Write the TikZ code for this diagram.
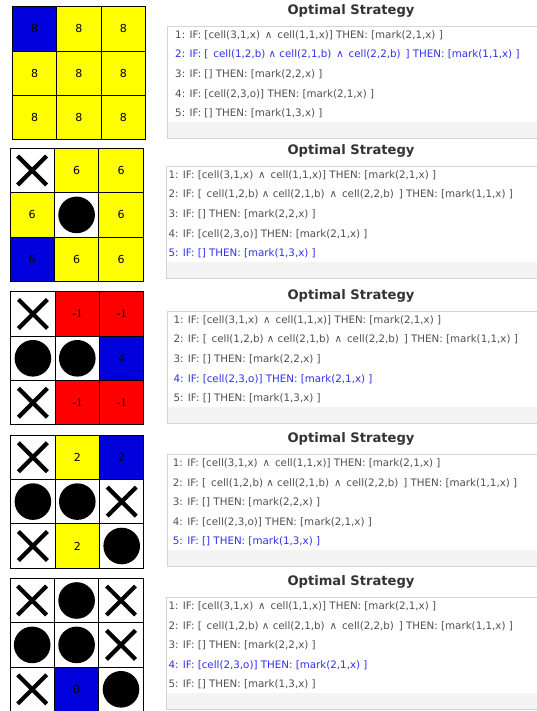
\documentclass[tikz,border=0pt]{standalone}
\usepackage{fontspec}
\newfontfamily\dv{DejaVu Sans}
\newfontfamily\lser{Liberation Serif}
\definecolor{cyell}{HTML}{FFFF00}
\definecolor{cblue}{HTML}{0000DD}
\definecolor{cred}{HTML}{FF0000}
\definecolor{txtgray}{HTML}{505050}
\definecolor{hlblue}{HTML}{3030F0}
\definecolor{titlegray}{HTML}{333333}
\definecolor{boxgray}{HTML}{D4D4D4}
\definecolor{stripgray}{HTML}{F4F4F4}
\newcommand\dsp{\hspace{4.9pt}}
\newcommand\rulA{1: IF: [cell(3,1,x)\dsp∧\dsp cell(1,1,x)] THEN: [mark(2,1,x) ]}
\newcommand\rulB{2: IF: [\dsp cell(1,2,b) ∧ cell(2,1,b)\dsp∧\dsp cell(2,2,b)\dsp] THEN: [mark(1,1,x) ]}
\newcommand\rulC{3: IF: [] THEN: [mark(2,2,x) ]}
\newcommand\rulD{4: IF: [cell(2,3,o)] THEN: [mark(2,1,x) ]}
\newcommand\rulE{5: IF: [] THEN: [mark(1,3,x) ]}
\tikzset{
  cellbox/.style={draw=black, line width=1pt, minimum size=44.4pt, inner sep=0pt, outer sep=0pt,
    font=\dv\fontsize{11}{12}\selectfont, text=black},
  ye/.style={cellbox, fill=cyell},
  bl/.style={cellbox, fill=cblue},
  rd/.style={cellbox, fill=cred, font=\lser\fontsize{12}{13}\selectfont},
  em/.style={cellbox, fill=white},
  xm/.style={em, path picture={
    \draw[line width=4.2pt] ([shift={(-14.5,-14.5)}]path picture bounding box.center) -- ([shift={(14.5,14.5)}]path picture bounding box.center);
    \draw[line width=4.2pt] ([shift={(-14.5,14.5)}]path picture bounding box.center) -- ([shift={(14.5,-14.5)}]path picture bounding box.center);}},
  om/.style={em, path picture={\fill[black] (path picture bounding box.center) circle[radius=18.3pt];}},
  titlestyle/.style={font=\dv\bfseries\fontsize{13.1}{15}\selectfont, text=titlegray, inner sep=0pt},
  boxstyle/.style={draw=boxgray, line width=0.8pt, anchor=north west, inner sep=0pt},
  ruletext/.style={font=\dv\fontsize{10.3}{12}\selectfont, text=txtgray, anchor=west, inner sep=0pt}
}
\newcommand\gc[4]{\node[#3] (c#1#2) at ({(#1-0.5)*44.4},{(#2-0.5)*44.4}) {#4};}
% #1 prefix, #2 box top, #3 box left, #4 text x, #5 highlighted line
\newcommand\stratpanel[5]{%
  \node[titlestyle] (#1title) at (351,{#2-15.5}) {Optimal Strategy};
  \fill[white] (#3,#2) rectangle (536.5,{#2+112});
  \fill[stripgray] (#3,{#2+96}) rectangle (536.5,{#2+112});
  \node[boxstyle, minimum width={(536.5-#3)*1pt}, minimum height=112pt] (#1box) at (#3,#2) {};
  \foreach \i/\t in {1/\rulA,2/\rulB,3/\rulC,4/\rulD,5/\rulE}{
    \node[ruletext] (#1r\i) at (#4,{#2+9+(\i-1)*19.6}) {\ifnum\i=#5\color{hlblue}\fi\t};
  }
}
\begin{document}
\begin{tikzpicture}[x=1pt,y=-1pt]
\useasboundingbox (0,0) rectangle (537,711);
\clip (0,0) rectangle (537,711);
\fill[white] (0,0) rectangle (537,711);
% ---- panel 1
\begin{scope}[shift={(12.3,6.7)}, name prefix=pa-]
\gc11{bl}{8}\gc21{ye}{8}\gc31{ye}{8}
\gc12{ye}{8}\gc22{ye}{8}\gc32{ye}{8}
\gc13{ye}{8}\gc23{ye}{8}\gc33{ye}{8}
\end{scope}
% ---- panel 2
\begin{scope}[shift={(10,148.3)}, name prefix=pb-]
\gc11{xm}{}\gc21{ye}{6}\gc31{ye}{6}
\gc12{ye}{6}\gc22{om}{}\gc32{ye}{6}
\gc13{bl}{6}\gc23{ye}{6}\gc33{ye}{6}
\end{scope}
% ---- panel 3
\begin{scope}[shift={(10.7,291.7)}, name prefix=pc-]
\gc11{xm}{}\gc21{rd}{-1}\gc31{rd}{-1}
\gc12{om}{}\gc22{om}{}\gc32{bl,font=\lser\fontsize{12}{13}\selectfont}{4}
\gc13{xm}{}\gc23{rd}{-1}\gc33{rd}{-1}
\end{scope}
% ---- panel 4
\begin{scope}[shift={(10.7,435)}, name prefix=pd-]
\gc11{xm}{}\gc21{ye}{2}\gc31{bl}{2}
\gc12{om}{}\gc22{om}{}\gc32{xm}{}
\gc13{xm}{}\gc23{ye}{2}\gc33{om}{}
\end{scope}
% ---- panel 5
\begin{scope}[shift={(10,578.3)}, name prefix=pe-]
\gc11{xm}{}\gc21{om}{}\gc31{xm}{}
\gc12{om}{}\gc22{om}{}\gc32{xm}{}
\gc13{xm}{}\gc23{bl}{0}\gc33{om}{}
\end{scope}
% ---- strategy panels
\stratpanel{sa-}{26}{167.3}{175}{2}
\stratpanel{sb-}{166}{166}{168.3}{5}
\stratpanel{sc-}{311}{166.7}{173.3}{4}
\stratpanel{sd-}{454.3}{166.7}{172.7}{5}
\stratpanel{se-}{597.3}{166}{168.3}{4}
\end{tikzpicture}
\end{document}
